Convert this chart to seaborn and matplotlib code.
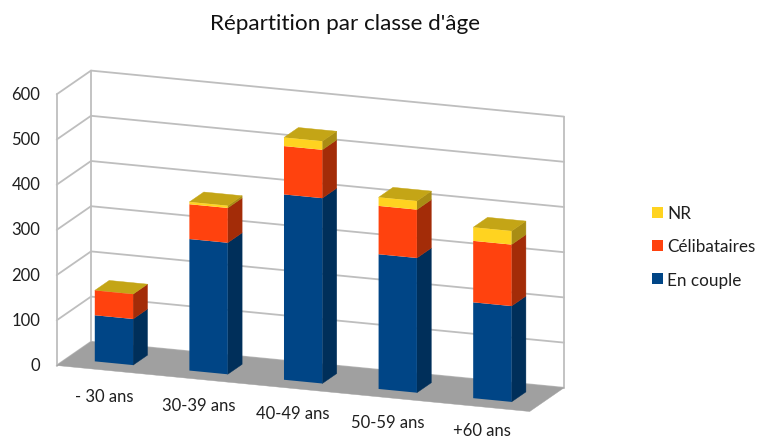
import matplotlib
matplotlib.use("Agg")
import matplotlib.pyplot as plt
import numpy as np
import seaborn as sns
from matplotlib.lines import Line2D
from matplotlib.patches import Patch, Polygon
from matplotlib.transforms import Affine2D

categories = ["- 30 ans", "30-39 ans", "40-49 ans", "50-59 ans", "+60 ans"]
en_couple = [102, 291, 410, 298, 212]
celibataires = [55, 77, 107, 107, 136]
nr = [0, 5, 19, 19, 30]
y_ticks = [0, 100, 200, 300, 400, 500, 600]

series = [("En couple", en_couple, "#004586", "#002F5A"),
          ("Célibataires", celibataires, "#FF420E", "#A32C08"),
          ("NR", nr, "#FFD320", "#A98D14")]
TOP_COLOR = "#C4A516"
GRID = "#BEBEBE"
FLOOR = "#A0A0A0"
TEXT = "#1F1F1F"

# oblique projection: (category position, value, depth) -> pixels
X0, Y0 = 56.7, 366.5
CX, CY = 94.6, 9.2
DX, DY = 34.3, -23.7
VY = -0.452
BAR_W = 0.405
D0, D1 = 0.29, 0.71


def project(c, v, d):
    return (X0 + CX * c + DX * d, Y0 + CY * c + DY * d + VY * v)


sns.set_theme(style="white")
plt.rcParams["font.family"] = ["Lato", "DejaVu Sans"]
fig = plt.figure(figsize=(7.58, 4.39), dpi=100)
ax = fig.add_axes([0, 0, 1, 1])

# stacked front faces through seaborn, category position i sits at c = i + 0.5
bottoms = np.zeros(len(categories))
groups = []
for name, vals, col, _ in series:
    n = len(ax.patches)
    sns.barplot(x=categories, y=vals, bottom=bottoms, color=col, saturation=1,
                width=BAR_W, errorbar=None, ax=ax, zorder=5, linewidth=0)
    groups.append(ax.patches[n:])
    bottoms = bottoms + np.array(vals)

ax.set_xlim(0, 758)
ax.set_ylim(439, 0)
ax.axis("off")

front = Affine2D(np.array([[CX, 0, X0 + CX * 0.5 + DX * D0],
                           [CY, VY, Y0 + CY * 0.5 + DY * D0],
                           [0, 0, 1]])) + ax.transData
for g in groups:
    for p in g:
        p.set_transform(front)
        p.set_clip_on(False)


def face(points, color, z):
    ax.add_patch(Polygon(points, closed=True, fc=color, ec=color, lw=0.3, zorder=z,
                         transform=ax.transData))


def line(a, b):
    ax.add_line(Line2D([a[0], b[0]], [a[1], b[1]], color=GRID, lw=1.3, zorder=1,
                       transform=ax.transData))


# walls
n = len(categories)
vmax = y_ticks[-1]
for v in y_ticks:
    line(project(0, v, 0), project(0, v, 1))
    line(project(0, v, 1), project(n, v, 1))
line(project(0, 0, 0), project(0, vmax, 0))
line(project(0, 0, 1), project(0, vmax, 1))
line(project(n, 0, 1), project(n, vmax, 1))

# floor
face([project(0, 0, 0), project(n, 0, 0), project(n, 0, 1), project(0, 0, 1)], FLOOR, 2)

# side and top faces of the stacks
base = np.zeros(n)
for name, vals, col, dark in series:
    for i, v in enumerate(vals):
        r = i + 0.5 + BAR_W / 2
        b0, b1 = base[i], base[i] + v
        if v > 0:
            face([project(r, b0, D0), project(r, b1, D0), project(r, b1, D1), project(r, b0, D1)], dark, 4)
    base = base + np.array(vals)
for i in range(n):
    r = i + 0.5 + BAR_W / 2
    l = i + 0.5 - BAR_W / 2
    t = base[i]
    face([project(l, t, D0), project(r, t, D0), project(r, t, D1), project(l, t, D1)], TOP_COLOR, 4)

# tick labels
for v in y_ticks:
    x, y = project(0, v, 0)
    ax.text(x - 16.5, y - 0.5, str(v), ha="right", va="center", fontsize=12, color=TEXT)
for i, lab in enumerate(categories):
    x, y = project(i + 0.5, 0, 0)
    ax.text(x, y + 26 - 0.6 * i, lab, ha="center", va="center", fontsize=12, color=TEXT)

ax.text(345, 24, "Répartition par classe d'âge", ha="center", va="center",
        fontsize=16.2, color="#111111")

handles = [Patch(fc=s[2], ec="none") for s in reversed(series)]
labels = [s[0] for s in reversed(series)]
ax.legend(handles, labels, loc="center left", bbox_to_anchor=(652, 247.5),
          bbox_transform=ax.transData, frameon=False, fontsize=12.3,
          handlelength=0.65, handleheight=0.65, handletextpad=0.25,
          labelspacing=1.0, labelcolor=TEXT, borderpad=0, borderaxespad=0)

fig.savefig("out.png", dpi=100, facecolor="white")
